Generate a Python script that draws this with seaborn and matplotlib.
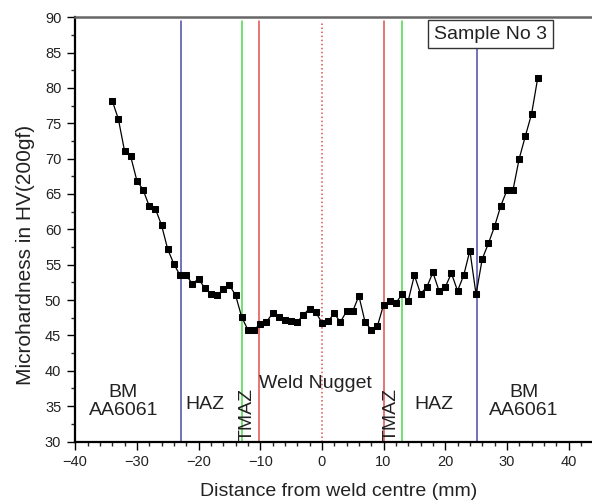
import numpy as np
import pandas as pd
import matplotlib
matplotlib.use("Agg")
import matplotlib.pyplot as plt
from matplotlib.ticker import MultipleLocator
import seaborn as sns

# ─────────────────────────────────────────────
# Data
# ─────────────────────────────────────────────
distance_mm = list(range(-34, 36))
hardness_hv = [
    78.2, 75.6, 71.1, 70.3, 66.9, 65.6, 63.3, 62.9, 60.6, 57.2,   # -34 .. -25
    55.1, 53.5, 53.5, 52.3, 53.0, 51.7, 50.9, 50.7, 51.5, 52.1,   # -24 .. -15
    50.7, 47.6, 45.8, 45.8, 46.6, 46.9, 48.1, 47.6, 47.2, 47.0,   # -14 .. -5
    46.9, 47.9, 48.8, 48.3, 46.8, 47.0, 48.1, 46.9, 48.4, 48.4,   # -4 .. 5
    50.6, 46.9, 45.8, 46.3, 49.3, 49.9, 49.6, 50.8, 49.9, 53.5,   # 6 .. 15
    50.9, 51.8, 53.9, 51.3, 51.8, 53.8, 51.3, 53.5, 57.0, 50.8,   # 16 .. 25
    55.8, 58.0, 60.4, 63.3, 65.5, 65.6, 70.0, 73.2, 76.3, 81.4,   # 26 .. 35
]

# zone boundaries
boundary_x = [-22.8, -13.0, -10.2, 0.0, 10.1, 13.0, 25.1]
boundary_colors = ["#4b4ba8", "#4cd84c", "#e05050", "#e05050", "#e05050", "#4cd84c", "#4b4ba8"]
boundary_styles = ["-", "-", "-", ":", "-", "-", "-"]

zone_labels = ["BM\nAA6061", "HAZ", "TMAZ", "Weld Nugget", "TMAZ", "HAZ", "BM\nAA6061"]
zone_x = [-32.2, -18.9, -12.1, -1.1, 11.2, 18.1, 32.7]
zone_y = [35.7, 35.3, 33.8, 38.2, 33.8, 35.3, 35.7]
zone_rot = [0, 0, 90, 0, 90, 0, 0]

df = pd.DataFrame({"distance": distance_mm, "hardness": hardness_hv})

# ─────────────────────────────────────────────
# Plot
# ─────────────────────────────────────────────
sns.set_style("white")
plt.rcParams["font.family"] = ["Liberation Sans", "DejaVu Sans"]

fig = plt.figure(figsize=(5.92, 5.04), dpi=100)
ax = fig.add_axes([0.127, 0.124, 0.873, 0.842])

for x, c, ls in zip(boundary_x, boundary_colors, boundary_styles):
    ax.plot([x, x], [30, 89.4], color=c, linestyle=ls, linewidth=1.1, zorder=1)

sns.lineplot(data=df, x="distance", y="hardness", ax=ax, color="black",
             linewidth=0.9, marker="s", markersize=5, markeredgecolor="black",
             markerfacecolor="black", zorder=3)

for lab, x, y, rot in zip(zone_labels, zone_x, zone_y, zone_rot):
    ax.text(x, y, lab, ha="center", va="center", rotation=rot, fontsize=14,
            color="#222222", linespacing=1.05, zorder=4)

ax.text(27.3, 87.6, "Sample No 3", ha="center", va="center", fontsize=14,
        color="#222222", zorder=5,
        bbox=dict(boxstyle="square,pad=0.3", facecolor="white", edgecolor="#333333", linewidth=1))

ax.set_xlim(-40, 43.8)
ax.set_ylim(30, 90)
ax.xaxis.set_major_locator(MultipleLocator(10))
ax.xaxis.set_minor_locator(MultipleLocator(2))
ax.yaxis.set_major_locator(MultipleLocator(5))
ax.yaxis.set_minor_locator(MultipleLocator(2.5))
ax.tick_params(which="major", direction="out", length=6, width=1, labelsize=10.5,
               colors="black", labelcolor="#222222", bottom=True, left=True, pad=4)
ax.tick_params(which="minor", direction="out", length=3, width=1, bottom=True, left=True)

ax.set_xlabel("Distance from weld centre (mm)", fontsize=14, color="#222222")
ax.set_ylabel("Microhardness in HV(200gf)", fontsize=15, color="#222222")
ax.xaxis.set_label_coords(0.51, -0.097)
ax.yaxis.set_label_coords(-0.078, 0.44)

for side in ["left", "bottom"]:
    ax.spines[side].set_color("black")
    ax.spines[side].set_linewidth(1.6)
ax.spines["top"].set_color("#666666")
ax.spines["top"].set_linewidth(1.8)
ax.spines["right"].set_visible(False)

fig.savefig("out.png", dpi=100)
